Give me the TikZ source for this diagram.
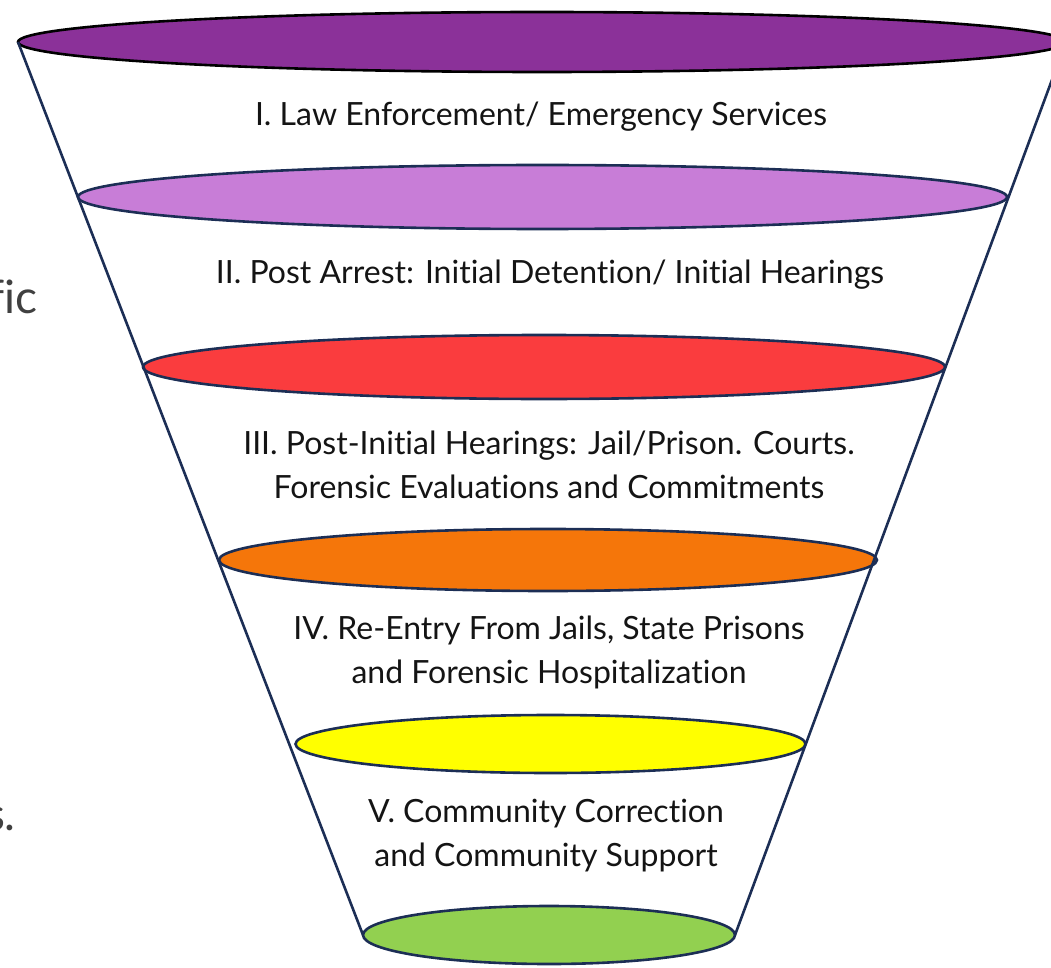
\documentclass[tikz,border=0pt]{standalone}
\usepackage{fontspec}
\setmainfont{Lato}[Ligatures=NoCommon]
\definecolor{topviolet}{RGB}{139,49,153}
\definecolor{lightviolet}{RGB}{200,125,215}
\definecolor{stagered}{RGB}{250,60,62}
\definecolor{stageorange}{RGB}{245,118,10}
\definecolor{stageyellow}{RGB}{255,255,0}
\definecolor{stagegreen}{RGB}{146,208,80}
\definecolor{navyline}{RGB}{28,46,85}
\definecolor{txtdark}{RGB}{20,20,20}
\definecolor{txtgray}{RGB}{64,64,64}
\tikzset{
  disc/.style={draw=navyline, line width=2.6pt},
  side/.style={draw=navyline, line width=2.6pt},
  stagetext/.style={text=txtdark, font=\fontsize{32}{44}\selectfont, align=center, inner sep=0pt},
  fragment/.style={text=txtgray, font=\fontsize{46}{50}\selectfont, inner sep=0pt, anchor=base east}
}
\begin{document}
\begin{tikzpicture}[x=1pt,y=-1pt]
\useasboundingbox (0,0) rectangle (1051,968);
\clip (0,0) rectangle (1051,968);
% left cropped fragments
\node[fragment] (fragA) at (38,313) {fic};
\node[fragment] (fragB) at (16,830) {s.};
% discs
\filldraw[fill=topviolet, draw=black, line width=2.6pt] (542,42) ellipse [x radius=524pt, y radius=30pt];
\filldraw[disc, fill=lightviolet] (542.5,197) ellipse [x radius=464.5pt, y radius=32pt];
\filldraw[disc, fill=stagered] (544,367) ellipse [x radius=401pt, y radius=32pt];
\filldraw[disc, fill=stageorange] (548,560) ellipse [x radius=329pt, y radius=31pt];
\filldraw[disc, fill=stageyellow] (550.5,744) ellipse [x radius=255pt, y radius=29pt];
\filldraw[disc, fill=stagegreen] (549,935) ellipse [x radius=186pt, y radius=29pt];
% funnel sides
\coordinate (topL) at (18,42);
\coordinate (topR) at (1066,42);
\coordinate (botL) at (363,935);
\coordinate (botR) at (735,935);
\draw[side] (topL) -- (botL);
\draw[side] (topR) -- (botR);
% stage labels
\node[stagetext] (s1) at (541,117) {I. Law Enforcement/ Emergency Services};
\node[stagetext] (s2) at (550,275) {II. Post Arrest: Initial Detention/ Initial Hearings};
\node[stagetext] (s3) at (549,465) {III. Post-Initial Hearings: Jail/Prison. Courts.\\Forensic Evaluations and Commitments};
\node[stagetext] (s4) at (549,652) {IV. Re-Entry From Jails, State Prisons\\and Forensic Hospitalization};
\node[stagetext] (s5) at (546,836) {V. Community Correction\\and Community Support};
\end{tikzpicture}
\end{document}
